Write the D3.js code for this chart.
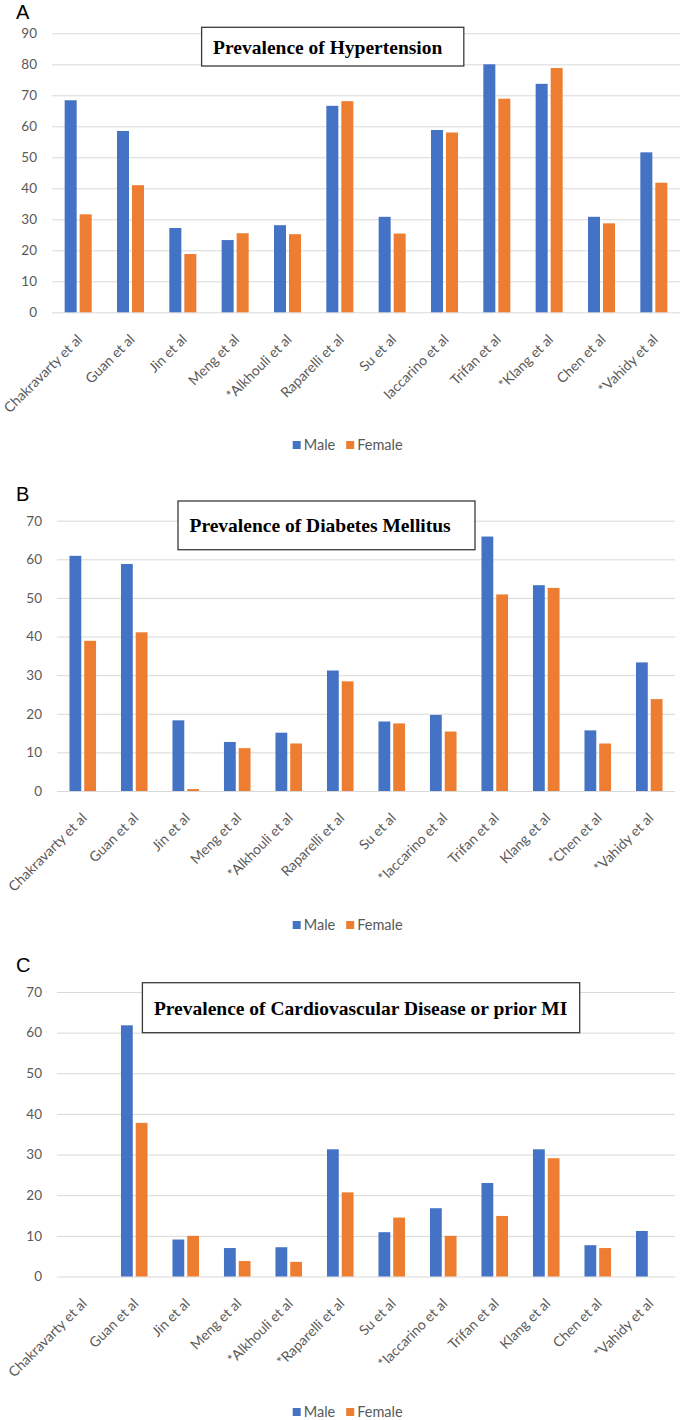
<!DOCTYPE html>
<html>
<head>
<meta charset="utf-8">
<script src="https://cdn.jsdelivr.net/npm/d3@7"></script>
<style>
  html, body { margin: 0; padding: 0; background: #fff; }
  svg { display: block; }
</style>
</head>
<body>
<svg id="chart" width="682" height="1420"></svg>
<script>
// ---------------- DATA ----------------
const seriesNames = ["Male", "Female"];

const categoriesA = ["Chakravarty et al","Guan et al","Jin et al","Meng et al","*Alkhouli et al","Raparelli et al","Su et al","Iaccarino et al","Trifan et al","*Klang et al","Chen et al","*Vahidy et al"];
const maleA   = [68.4, 58.5, 27.2, 23.3, 28.1, 66.6, 30.8, 58.8, 80.0, 73.7, 30.8, 51.6];
const femaleA = [31.6, 41.0, 18.8, 25.5, 25.2, 68.1, 25.4, 58.0, 68.9, 78.8, 28.7, 41.8];
const ticksA  = [0, 10, 20, 30, 40, 50, 60, 70, 80, 90];
const titleA  = "Prevalence of Hypertension";

const categoriesB = ["Chakravarty et al","Guan et al","Jin et al","Meng et al","*Alkhouli et al","Raparelli et al","Su et al","*Iaccarino et al","Trifan et al","Klang et al","*Chen et al","*Vahidy et al"];
const maleB   = [60.9, 58.8, 18.3, 12.7, 15.1, 31.2, 18.0, 19.7, 65.9, 53.3, 15.7, 33.3];
const femaleB = [38.9, 41.1, 0.5, 11.1, 12.3, 28.4, 17.5, 15.4, 50.9, 52.6, 12.3, 23.8];
const ticksB  = [0, 10, 20, 30, 40, 50, 60, 70];
const titleB  = "Prevalence of Diabetes Mellitus";

const categoriesC = ["Chakravarty et al","Guan et al","Jin et al","Meng et al","*Alkhouli et al","*Raparelli et al","Su et al","*Iaccarino et al","Trifan et al","Klang et al","Chen et al","*Vahidy et al"];
const maleC   = [null, 61.8, 9.1, 7.0, 7.2, 31.3, 10.9, 16.8, 23.0, 31.3, 7.7, 11.2];
const femaleC = [null, 37.8, 10.0, 3.8, 3.6, 20.7, 14.5, 10.0, 14.9, 29.1, 7.0, null];
const ticksC  = [0, 10, 20, 30, 40, 50, 60, 70];
const titleC  = "Prevalence of Cardiovascular Disease or prior MI";

// ---------------- LAYOUT ----------------
const colors = { Male: "#4472C4", Female: "#ED7D31" };
const textGray = "#595959";
const gridGray = "#d9d9d9";
const sansFont = "Lato, 'Open Sans', sans-serif";

const panels = [
  { letter: "A", letterY: 19, cats: categoriesA, male: maleA, female: femaleA, ticks: ticksA, title: titleA,
    x0: 52, x1: 680, y0: 312.3, yTop: 33.3, box: [201.6, 27.3, 262.2, 38.7], legendY: 446 },
  { letter: "B", letterY: 501, cats: categoriesB, male: maleB, female: femaleB, ticks: ticksB, title: titleB,
    x0: 57, x1: 675, y0: 791, yTop: 520.7, box: [178, 501, 297, 48.7], legendY: 926 },
  { letter: "C", letterY: 972, cats: categoriesC, male: maleC, female: femaleC, ticks: ticksC, title: titleC,
    x0: 57, x1: 675, y0: 1276.5, yTop: 992, box: [142.4, 982.7, 437.3, 50], legendY: 1413 }
];

const svg = d3.select("#chart");

panels.forEach(p => {
  const g = svg.append("g");
  const maxTick = p.ticks[p.ticks.length - 1];
  const y = d3.scaleLinear().domain([0, maxTick]).range([p.y0, p.yTop]);
  const xOuter = d3.scaleBand().domain(p.cats).range([p.x0, p.x1]).paddingInner(0.484).paddingOuter(0.242);
  const xInner = d3.scaleBand().domain(seriesNames).range([0, xOuter.bandwidth()]).paddingInner(0.2);

  // panel letter
  g.append("text").attr("x", 16).attr("y", p.letterY)
    .attr("font-family", "'Liberation Sans', Arial, sans-serif").attr("font-size", 20)
    .attr("fill", "#000").text(p.letter);

  // gridlines
  const yAxis = d3.axisLeft(y).tickValues(p.ticks).tickSize(-(p.x1 - p.x0)).tickPadding(15).tickFormat(d3.format("d"));
  const ag = g.append("g").attr("transform", `translate(${p.x0},0)`).call(yAxis);
  ag.select(".domain").remove();
  ag.selectAll(".tick line").attr("stroke", gridGray).attr("stroke-width", 1);
  ag.selectAll(".tick text").attr("fill", textGray).attr("font-family", sansFont).attr("font-size", 13.5);

  // bars
  const rows = p.cats.map((c, i) => ({ cat: c, Male: p.male[i], Female: p.female[i] }));
  const grp = g.append("g").selectAll("g").data(rows).join("g")
    .attr("transform", d => `translate(${xOuter(d.cat)},0)`);
  grp.selectAll("rect")
    .data(d => seriesNames.filter(s => d[s] != null).map(s => ({ s, v: d[s] })))
    .join("rect")
    .attr("x", d => xInner(d.s))
    .attr("width", xInner.bandwidth())
    .attr("y", d => y(d.v))
    .attr("height", d => y(0) - y(d.v))
    .attr("fill", d => colors[d.s]);

  // x axis labels
  const xAxis = d3.axisBottom(xOuter).tickSize(0).tickPadding(0);
  const xg = g.append("g").attr("transform", `translate(0,${p.y0})`).call(xAxis);
  xg.select(".domain").remove();
  xg.selectAll(".tick text")
    .attr("fill", textGray).attr("font-family", sansFont).attr("font-size", 14)
    .attr("text-anchor", "end").attr("dy", null)
    .attr("transform", "translate(5,28) rotate(-45)")
    .attr("x", 0).attr("y", 0);

  // title box
  const [bx, by, bw, bh] = p.box;
  g.append("rect").attr("x", bx).attr("y", by).attr("width", bw).attr("height", bh)
    .attr("fill", "#fff").attr("stroke", "#3a3a3a").attr("stroke-width", 1.3);
  g.append("text").attr("x", bx + 11.5).attr("y", by + bh / 2 + 7)
    .attr("font-family", "'Liberation Serif', 'Times New Roman', serif").attr("font-weight", "bold")
    .attr("font-size", 19.5).attr("fill", "#000").text(p.title);

  // legend
  const lg = g.append("g").attr("transform", `translate(292.7,${p.legendY})`);
  const items = [{ s: "Male", dx: 0 }, { s: "Female", dx: 53.5 }];
  items.forEach(it => {
    lg.append("rect").attr("x", it.dx).attr("y", -5).attr("width", 8).attr("height", 8).attr("fill", colors[it.s]);
    lg.append("text").attr("x", it.dx + 11).attr("y", 4).attr("fill", textGray)
      .attr("font-family", sansFont).attr("font-size", 14.5).text(it.s);
  });
});
</script>
</body>
</html>
